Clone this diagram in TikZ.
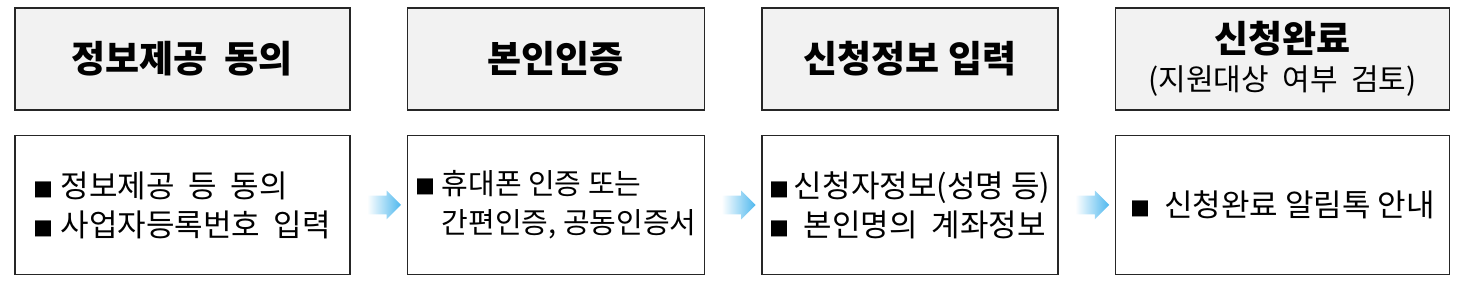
\documentclass[tikz,border=0pt]{standalone}
\usepackage{fontspec}
\setmainfont{Noto Sans CJK KR}
\usepackage{tikz}
\usetikzlibrary{positioning,shapes.arrows}
\definecolor{headGray}{HTML}{F2F2F2}
\definecolor{lineDark}{HTML}{262626}
\definecolor{flowBlue}{HTML}{4FB8EE}
\newcommand{\sqmark}{{\fontsize{10}{10}\selectfont ■}}

\begin{document}
\begin{tikzpicture}[
    node distance=12pt and 28pt,
    head/.style={rectangle, draw=lineDark, fill=headGray, line width=0.8pt,
                 minimum height=51pt, align=center, inner sep=2pt,
                 font=\bfseries\fontsize{18.5}{21}\selectfont},
    body/.style={rectangle, draw=lineDark, fill=white, line width=0.8pt,
                 minimum height=69.5pt, align=left, inner sep=0pt,
                 font=\fontsize{15.5}{19.5}\selectfont},
    flow/.style={single arrow, minimum height=17pt, text height=9pt,
                 text depth=0pt, single arrow head extend=2.5pt, inner sep=0pt,
                 left color=white, right color=flowBlue, draw=none},
]
    \useasboundingbox (0,0) rectangle (729pt,-143pt);
    % step titles
    \node[head, minimum width=167.5pt, anchor=north west] (h1) at (7pt,-3.5pt)
         {정보제공\ \ 동의};
    \node[head, minimum width=148.5pt, right=28pt of h1] (h2) {본인인증};
    \node[head, minimum width=148pt, right=28pt of h2] (h3) {신청정보 입력};
    \node[head, minimum width=167pt, right=28pt of h3] (h4)
         {신청완료\\[-2pt]{\mdseries\fontsize{15}{17}\selectfont (지원대상\ \ 여부\ \ 검토)}};
    % step details
    \node[body, minimum width=167.5pt, below=of h1] (b1)
         {\sqmark\ 정보제공\ \ 등\ \ 동의\\\sqmark\ 사업자등록번호\ \ 입력};
    \node[body, minimum width=148.5pt, below=of h2, font=\fontsize{14.5}{19.5}\selectfont] (b2)
         {\sqmark\ 휴대폰 인증 또는\\\phantom{\sqmark\ }간편인증, 공동인증서};
    \node[body, minimum width=148pt, below=of h3] (b3)
         {\sqmark\hspace{2pt}신청자정보(성명 등)\\\sqmark\ \ 본인명의\ \ 계좌정보};
    \node[body, minimum width=167pt, below=of h4] (b4)
         {\sqmark\ \ 신청완료 알림톡 안내};
    % arrows
    \node[flow, right=8pt of b1] (a1) {};
    \node[flow, right=8pt of b2] (a2) {};
    \node[flow, right=8pt of b3] (a3) {};
\end{tikzpicture}
\end{document}
